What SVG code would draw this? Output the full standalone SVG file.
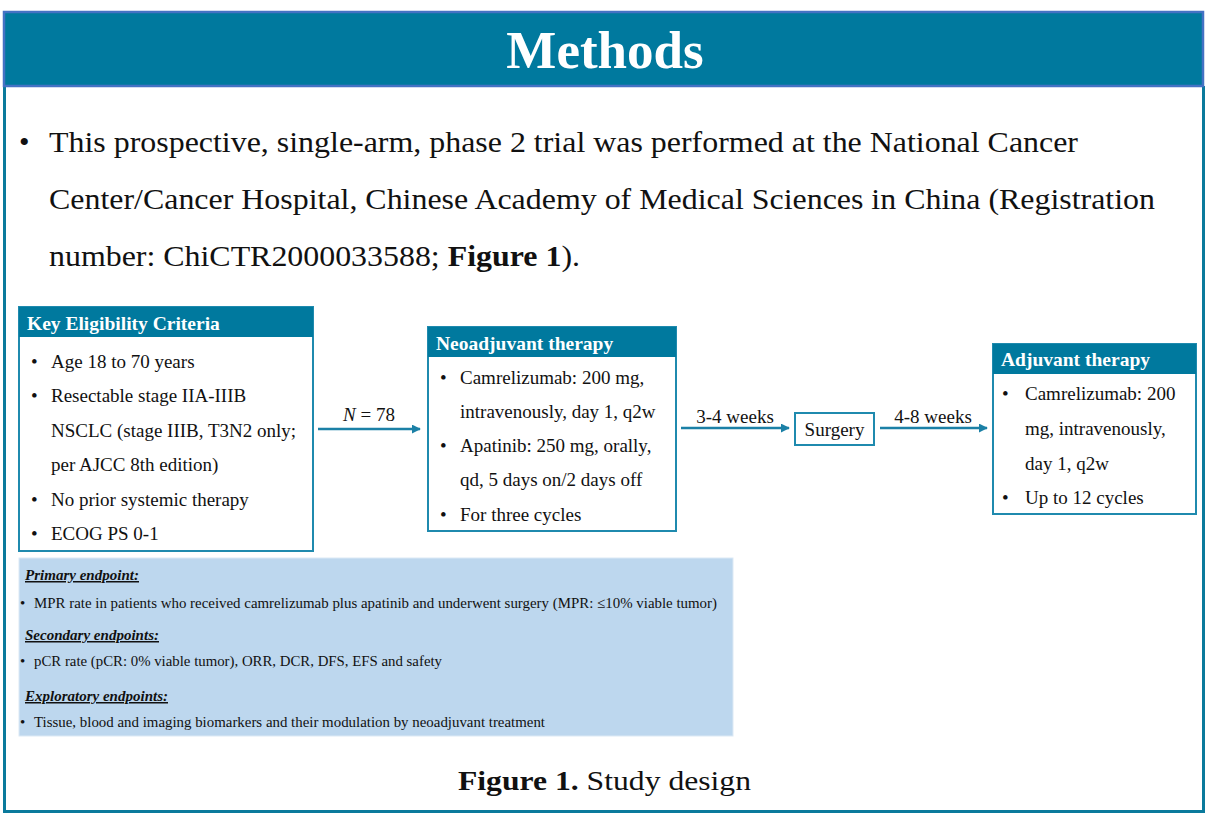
<svg xmlns="http://www.w3.org/2000/svg" width="1206" height="817" viewBox="0 0 1206 817">
<defs>
<marker id="ah" viewBox="0 0 10 10" refX="9" refY="5" markerWidth="9" markerHeight="9" markerUnits="userSpaceOnUse" orient="auto">
<path d="M0,0 L10,5 L0,10 z" fill="#1B80A6"/>
</marker>
</defs>
<style>
text{font-family:"Liberation Serif","Times New Roman",serif;fill:#111}
.hd{fill:#00799E}
.bx{fill:#fff;stroke:#1F8AAE;stroke-width:2}
.ht{font-weight:bold;fill:#fff;font-size:19.5px}
.b{font-size:19px}
.p{font-size:30px}
.e{font-size:15px}
.eh{font-size:15px;font-weight:bold;font-style:italic;text-decoration:underline}
.ar{stroke:#1B80A6;stroke-width:2.5;fill:none;marker-end:url(#ah)}
</style>
<rect width="1206" height="817" fill="#fff"/>
<g id="frame">
<path d="M4.5,86 V811.5 H1203.5 V86" fill="none" stroke="#0A7A9C" stroke-width="3"/>
<rect x="4" y="12" width="1199" height="74" fill="#00799E" stroke="#4472C4" stroke-width="2.5"/>
<text x="605" y="68" text-anchor="middle" style="font-size:53px;font-weight:bold;fill:#fff">Methods</text>
</g>
<g id="intro">
<text x="19" y="152" class="p">•</text>
<text x="49" y="152" class="p" textLength="1029" lengthAdjust="spacingAndGlyphs">This prospective, single-arm, phase 2 trial was performed at the National Cancer</text>
<text x="49" y="209" class="p" textLength="1106" lengthAdjust="spacingAndGlyphs">Center/Cancer Hospital, Chinese Academy of Medical Sciences in China (Registration</text>
<text x="49" y="266" class="p" textLength="531" lengthAdjust="spacingAndGlyphs">number: ChiCTR2000033588; <tspan font-weight="bold">Figure 1</tspan>).</text>
</g>
<g id="eligibility">
<rect x="19" y="307" width="294" height="244" class="bx"/>
<rect x="19" y="307" width="294" height="30" class="hd"/>
<text x="27" y="330" class="ht">Key  Eligibility Criteria</text>
<text class="b">
<tspan x="31" y="368">•</tspan><tspan x="51" y="368">Age 18 to 70 years</tspan>
<tspan x="31" y="402">•</tspan><tspan x="51" y="402">Resectable stage IIA-IIIB</tspan>
<tspan x="51" y="437">NSCLC (stage IIIB,  T3N2 only;</tspan>
<tspan x="51" y="471">per AJCC 8th edition)</tspan>
<tspan x="31" y="506">•</tspan><tspan x="51" y="506">No prior systemic therapy</tspan>
<tspan x="31" y="540">•</tspan><tspan x="51" y="540">ECOG PS 0-1</tspan>
</text>
</g>
<g id="neoadjuvant">
<rect x="428" y="327" width="248" height="204" class="bx"/>
<rect x="428" y="327" width="248" height="30" class="hd"/>
<text x="436" y="350" class="ht">Neoadjuvant therapy</text>
<text class="b">
<tspan x="440" y="384">•</tspan><tspan x="460" y="384">Camrelizumab: 200 mg,</tspan>
<tspan x="460" y="418">intravenously, day 1, q2w</tspan>
<tspan x="440" y="452">•</tspan><tspan x="460" y="452">Apatinib: 250 mg,  orally,</tspan>
<tspan x="460" y="486">qd, 5 days on/2 days off</tspan>
<tspan x="440" y="521">•</tspan><tspan x="460" y="521">For three cycles</tspan>
</text>
</g>
<g id="surgery">
<rect x="795" y="413" width="79" height="32" class="bx"/>
<text x="834.5" y="436" class="b" text-anchor="middle">Surgery</text>
</g>
<g id="adjuvant">
<rect x="993" y="344" width="203" height="170" class="bx"/>
<rect x="993" y="344" width="203" height="30" class="hd"/>
<text x="1001" y="366" class="ht">Adjuvant therapy</text>
<text class="b">
<tspan x="1002" y="400">•</tspan><tspan x="1025" y="400">Camrelizumab: 200</tspan>
<tspan x="1025" y="435">mg, intravenously,</tspan>
<tspan x="1025" y="470">day 1, q2w</tspan>
<tspan x="1002" y="504">•</tspan><tspan x="1025" y="504">Up to 12 cycles</tspan>
</text>
</g>
<g id="connectors">
<line x1="318" y1="429" x2="420" y2="429" class="ar"/>
<line x1="681" y1="428" x2="789" y2="428" class="ar"/>
<line x1="880" y1="428" x2="987" y2="428" class="ar"/>
<text x="369" y="421" class="b" text-anchor="middle"><tspan font-style="italic">N</tspan> = 78</text>
<text x="735" y="423" class="b" text-anchor="middle">3-4 weeks</text>
<text x="933" y="423" class="b" text-anchor="middle">4-8 weeks</text>
</g>
<g id="endpoints">
<rect x="19" y="558" width="714" height="178" fill="#BDD7EE" stroke="#DCE9F5" stroke-width="1"/>
<text x="25" y="580" class="eh" textLength="114" lengthAdjust="spacingAndGlyphs">Primary endpoint:</text>
<text x="20" y="608" class="e">•</text>
<text x="34" y="608" class="e" textLength="683" lengthAdjust="spacingAndGlyphs">MPR rate in patients who received camrelizumab  plus apatinib and underwent  surgery  (MPR: ≤10% viable tumor)</text>
<text x="25" y="640" class="eh" textLength="134" lengthAdjust="spacingAndGlyphs">Secondary endpoints:</text>
<text x="20" y="666" class="e">•</text>
<text x="34" y="666" class="e" textLength="408" lengthAdjust="spacingAndGlyphs">pCR rate (pCR: 0% viable tumor), ORR, DCR, DFS, EFS and safety</text>
<text x="25" y="701" class="eh" textLength="143" lengthAdjust="spacingAndGlyphs">Exploratory endpoints:</text>
<text x="20" y="727" class="e">•</text>
<text x="34" y="727" class="e" textLength="511" lengthAdjust="spacingAndGlyphs">Tissue, blood and imaging  biomarkers and their modulation  by neoadjuvant  treatment</text>
</g>
<g id="caption">
<text x="458" y="790" class="p" style="font-size:27px" textLength="293" lengthAdjust="spacingAndGlyphs"><tspan font-weight="bold">Figure 1.</tspan> Study design</text>
</g>
</svg>
